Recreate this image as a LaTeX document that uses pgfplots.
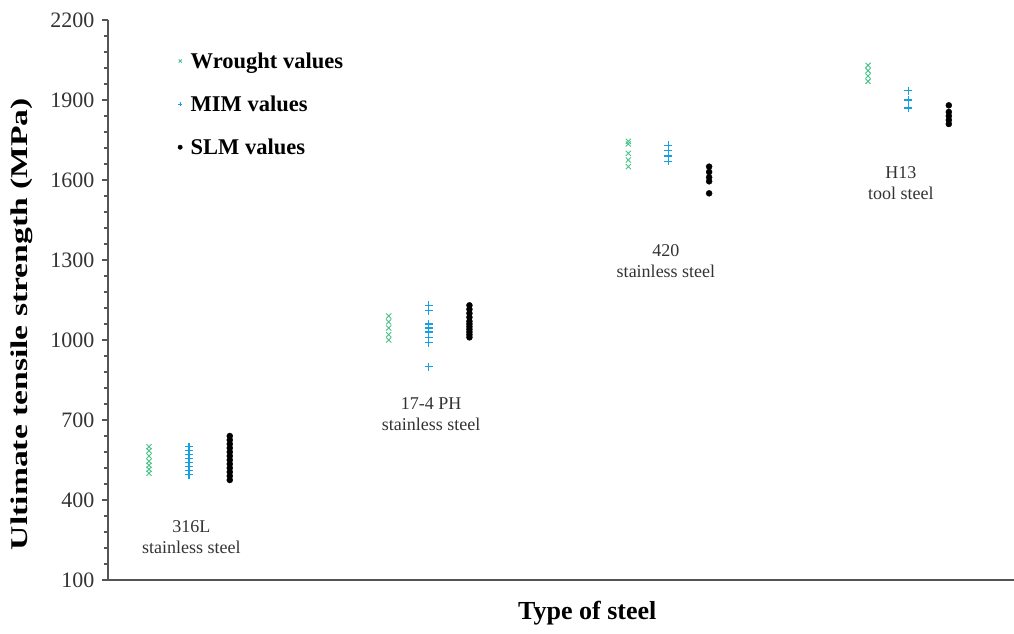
\documentclass[border=0pt]{standalone}
\usepackage{fontspec}
\setmainfont{Liberation Serif}
\usepackage{pgfplots}
\usepackage{pgfplotstable}
\pgfplotsset{compat=1.18}
\definecolor{wgreen}{RGB}{70,195,135}
\definecolor{mblue}{RGB}{20,160,225}
\definecolor{axgray}{RGB}{85,85,85}

\pgfplotstableread{
x y
-0.167 600
-0.167 585
-0.167 565
-0.167 545
-0.167 530
-0.167 515
-0.167 500
0.833 1090
0.833 1068
0.833 1045
0.833 1020
0.833 1000
1.833 1745
1.833 1735
1.833 1700
1.833 1675
1.833 1650
2.833 2030
2.833 2010
2.833 1990
2.833 1970
}\wrought

\pgfplotstableread{
x y
0 600
0 585
0 570
0 555
0 540
0 525
0 510
0 495
1 1130
1 1110
1 1060
1 1045
1 1030
1 1010
1 990
1 900
2 1730
2 1710
2 1690
2 1670
3 1935
3 1900
3 1870
}\mim

\pgfplotstableread{
x y
0.17 640
0.17 625
0.17 610
0.17 595
0.17 580
0.17 565
0.17 550
0.17 535
0.17 520
0.17 505
0.17 490
0.17 475
1.17 1130
1.17 1115
1.17 1100
1.17 1085
1.17 1070
1.17 1060
1.17 1050
1.17 1040
1.17 1030
1.17 1020
1.17 1010
2.17 1650
2.17 1630
2.17 1610
2.17 1595
2.17 1550
3.17 1880
3.17 1855
3.17 1840
3.17 1825
3.17 1810
}\slm

\begin{document}
\begin{tikzpicture}
\path[use as bounding box] (-108pt,-54pt) rectangle (906pt,580pt);
\begin{axis}[
  at={(0,0)}, anchor=south west,
  scale only axis, width=906pt, height=560pt,
  xmin=-0.338, xmax=3.442, ymin=100, ymax=2200,
  axis x line=bottom, axis y line=left,
  axis line style={-, draw=axgray, line width=1.6pt},
  xtick=\empty,
  ytick={100,400,...,2200},
  minor y tick num=4,
  tick align=outside,
  major tick length=6pt, minor tick length=4pt,
  every tick/.style={draw=axgray, line width=1.2pt},
  /pgf/number format/assume math mode=true,
  /pgf/number format/1000 sep={},
  y tick label style={font=\fontsize{22}{22}\selectfont, text=black!80, xshift=-4pt},
  ylabel={\scalebox{1.4}[1]{Ultimate tensile strength (MPa)}},
  ylabel style={at={(axis description cs:-0.095,0.457)}, anchor=center, font=\fontsize{24}{24}\selectfont\bfseries},
  xlabel={Type of steel},
  xlabel style={at={(axis description cs:0.529,0)}, anchor=center, yshift=-33pt, font=\fontsize{26}{26}\selectfont\bfseries},
  legend style={draw=none, fill=none, at={(axis description cs:0.077,0.946)}, anchor=north west,
    font=\fontsize{22.5}{22.5}\selectfont\bfseries, row sep=22pt, inner sep=0pt},
  legend cell align=left,
  legend image code/.code={\draw[#1, mark size=2.2pt] plot coordinates {(0pt,0pt)}; \path (8pt,0pt);},
  clip=false,
]
\addplot[only marks, mark=x, mark size=3.6pt, color=wgreen, line width=0.9pt] table[x=x,y=y] {\wrought};
\addlegendentry{Wrought values}
\addplot[only marks, mark=+, mark size=3.9pt, color=mblue, line width=1.1pt] table[x=x,y=y] {\mim};
\addlegendentry{MIM values}
\addplot[only marks, mark=*, mark size=3pt, color=black] table[x=x,y=y] {\slm};
\addlegendentry{SLM values}

\node[align=center, font=\fontsize{18}{21}\selectfont, text=black!80] at (axis cs:0.01,259) {316L\\stainless steel};
\node[align=center, font=\fontsize{18}{21}\selectfont, text=black!80] at (axis cs:1.01,722) {17-4 PH\\stainless steel};
\node[align=center, font=\fontsize{18}{21}\selectfont, text=black!80] at (axis cs:1.99,1296) {420\\stainless steel};
\node[align=center, font=\fontsize{18}{21}\selectfont, text=black!80] at (axis cs:2.97,1589) {H13\\tool steel};
\end{axis}
\end{tikzpicture}
\end{document}
